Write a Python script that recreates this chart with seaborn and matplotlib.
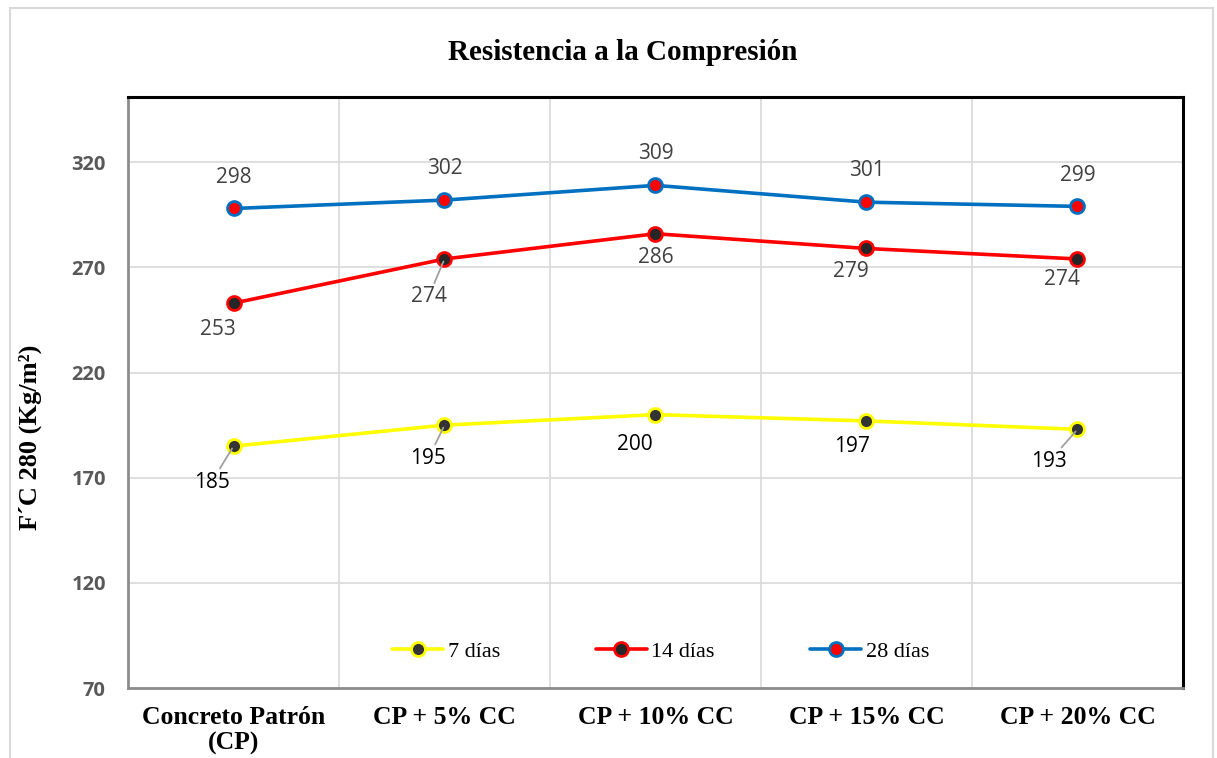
import matplotlib
matplotlib.use("Agg")
import matplotlib.pyplot as plt
import seaborn as sns
from matplotlib.patches import Rectangle

categories = ["Concreto Patrón\n(CP)", "CP + 5% CC", "CP + 10% CC", "CP + 15% CC", "CP + 20% CC"]
dias_7 = [185, 195, 200, 197, 193]
dias_14 = [253, 274, 286, 279, 274]
dias_28 = [298, 302, 309, 301, 299]
y_ticks = [70, 120, 170, 220, 270, 320]

# label offsets in pixels (dx, dy), and whether a leader line is drawn
off_7 = [(-22, -36, True), (-16, -33, True), (-21, -30, False), (-14, -26, False), (-28, -32, True)]
off_14 = [(-16, -26, False), (-16, -38, True), (0, -24, False), (-16, -23, False), (-15, -21, False)]
off_28 = [(0, 31, False), (0, 32, False), (0, 32, False), (0, 32, False), (0, 31, False)]

sns.set_style("white")
plt.rcParams["text.color"] = "black"
plt.rcParams["xtick.color"] = "black"
fig = plt.figure(figsize=(12.17, 7.58), dpi=100)
ax = fig.add_axes([0.1052, 0.0923, 0.8668, 0.7797])

series = [
    ("7 días", dias_7, "#FFFF00", "#333333", "#FFFF00", off_7, "#000000"),
    ("14 días", dias_14, "#FF0000", "#262626", "#FF0000", off_14, "#404040"),
    ("28 días", dias_28, "#0070C0", "#FF0000", "#0070C0", off_28, "#404040"),
]

for name, vals, lc, fc, ec, offs, tc in series:
    sns.lineplot(x=categories, y=vals, ax=ax, color=lc, linewidth=2.6,
                 marker="o", markersize=10, markerfacecolor=fc,
                 markeredgecolor=ec, markeredgewidth=2, label=name, zorder=3)
    for i, v in enumerate(vals):
        dx, dy, lead = offs[i]
        ap = dict(arrowstyle="-", color="#a0a0a0", lw=1.3, shrinkA=0, shrinkB=2) if lead else None
        ax.annotate(str(v), xy=(i, v), xytext=(dx, dy), textcoords="offset pixels",
                    ha="center", va="center", fontsize=15, color=tc,
                    family="Open Sans", arrowprops=ap, zorder=4)

ax.set_xlim(-0.5, 4.5)
ax.set_ylim(70, 351)
ax.set_yticks(y_ticks)
ax.set_xticks(range(len(categories)))
ax.set_xticks([0.5, 1.5, 2.5, 3.5], minor=True)
ax.grid(True, axis="y", color="#d9d9d9", linewidth=1.2)
ax.grid(True, axis="x", which="minor", color="#d9d9d9", linewidth=1.2)
ax.grid(False, axis="x", which="major")
ax.tick_params(axis="both", which="both", length=0)
ax.tick_params(axis="y", pad=16)
ax.tick_params(axis="x", pad=13)

for lbl in ax.get_yticklabels():
    lbl.set_fontfamily("Open Sans")
    lbl.set_fontweight("bold")
    lbl.set_fontsize(14.5)
    lbl.set_color("#595959")
for lbl in ax.get_xticklabels():
    lbl.set_fontfamily("Liberation Serif")
    lbl.set_fontweight("bold")
    lbl.set_fontsize(18.5)
    lbl.set_linespacing(1.12)
    lbl.set_color("black")

ax.set_xlabel("")
ax.set_ylabel("F´C 280 (Kg/m²)", fontsize=19, fontweight="bold",
              family="Liberation Serif", color="black")
ax.yaxis.set_label_coords(-0.082, 0.425)
fig.text(0.512, 0.931, "Resistencia a la Compresión", ha="center", va="center",
         fontsize=21, fontweight="bold", family="Liberation Serif", color="black")

for side in ["top", "right"]:
    ax.spines[side].set_color("black")
    ax.spines[side].set_linewidth(2.2)
for side in ["left", "bottom"]:
    ax.spines[side].set_color("#8c8c8c")
    ax.spines[side].set_linewidth(2)

leg = ax.legend(loc="lower center", bbox_to_anchor=(0.505, 0.01), ncol=3, frameon=False,
                prop={"family": "Liberation Serif", "size": 16}, columnspacing=4.3,
                handlelength=2.3, handletextpad=0.2, labelcolor="black")

fig.patches.append(Rectangle((0.008, -0.01), 0.989, 1.0, transform=fig.transFigure,
                             fill=False, edgecolor="#d9d9d9", linewidth=1.5))

fig.savefig("out.png", dpi=100)
